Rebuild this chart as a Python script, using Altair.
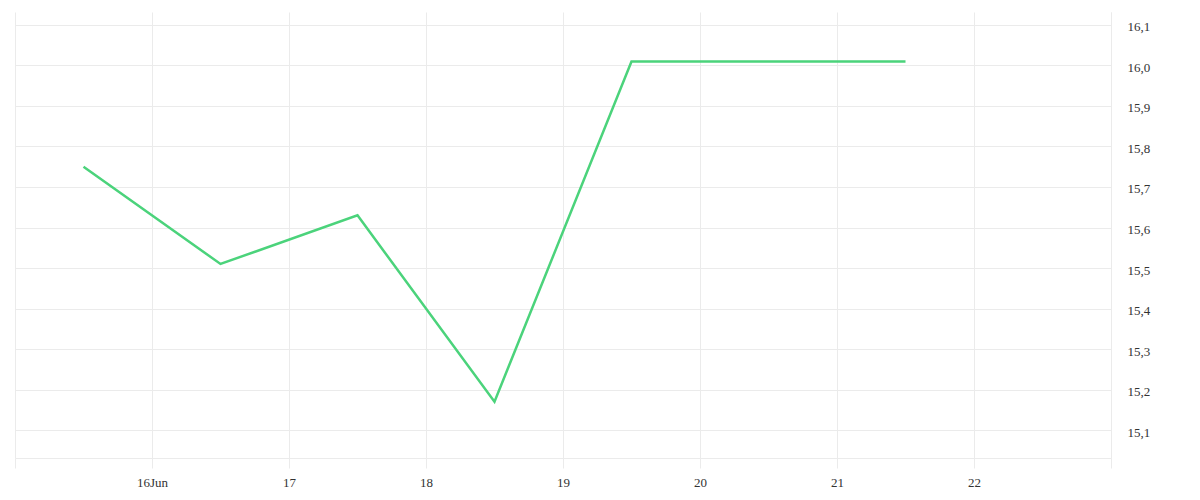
import altair as alt
import pandas as pd

dates = ["2023-06-15T12:00:00Z", "2023-06-16T12:00:00Z", "2023-06-17T12:00:00Z",
         "2023-06-18T12:00:00Z", "2023-06-19T12:00:00Z", "2023-06-20T12:00:00Z",
         "2023-06-21T12:00:00Z"]
values = [15.75, 15.51, 15.63, 15.17, 16.01, 16.01, 16.01]
y_ticks = [15.1, 15.2, 15.3, 15.4, 15.5, 15.6, 15.7, 15.8, 15.9, 16.0, 16.1]
x_tick_days = [15, 16, 17, 18, 19, 20, 21, 22, 23]

df = pd.DataFrame({"date": dates, "value": values})

FONT = "Liberation Serif"
GRID = "#ebebeb"

x_enc = alt.X(
    "date:T",
    scale=alt.Scale(type="utc",
                    domain=[alt.DateTime(year=2023, month=6, date=15, utc=True),
                            alt.DateTime(year=2023, month=6, date=23, utc=True)]),
    axis=alt.Axis(
        values=[alt.DateTime(year=2023, month=6, date=d, utc=True) for d in x_tick_days],
        labelExpr="utcdate(datum.value) == 16 ? '16Jun' : ((utcdate(datum.value) == 15 || utcdate(datum.value) == 23) ? '' : '' + utcdate(datum.value))",
        title=None, grid=True, gridColor=GRID, domainColor=GRID,
        tickColor=GRID, tickSize=10, labelPadding=8,
        labelFont=FONT, labelFontSize=13, labelColor="#333",
        labelOverlap=False, labelBound=False, labelFlush=False,
    ),
)

y_enc = alt.Y(
    "value:Q",
    scale=alt.Scale(domain=[15.031, 16.132], nice=False, zero=False),
    axis=alt.Axis(
        orient="right", values=y_ticks,
        labelExpr="replace(format(datum.value, '.1f'), '.', ',')",
        title=None, grid=True, gridColor=GRID, domainColor=GRID,
        ticks=False, labelPadding=16, labelOffset=2,
        labelFont=FONT, labelFontSize=13, labelColor="#333",
    ),
)

chart = alt.Chart(df).mark_line(color="#4bd37b", strokeWidth=2.5).encode(
    x=x_enc, y=y_enc
).properties(
    width=1096, height=446,
    autosize=alt.AutoSizeParams(type="none"),
    padding={"left": 7, "top": 4, "right": 70, "bottom": 30},
).configure_view(stroke=None)

chart.save("out.html", embed_options={"renderer": "svg", "actions": False})
